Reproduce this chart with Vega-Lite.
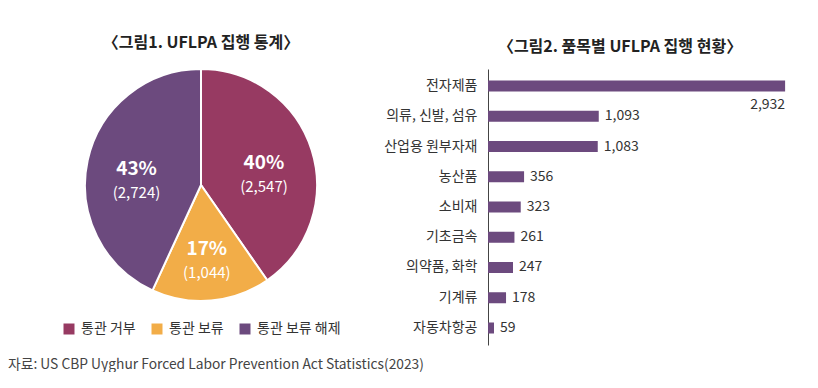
{
  "$schema": "https://vega.github.io/schema/vega-lite/v6.json",
  "padding": {"left": 0, "top": 35, "right": 0, "bottom": 0},
  "background": "white",
  "bounds": "flush",
  "spacing": 86,
  "resolve": {"legend": {"color": "independent"}, "scale": {"color": "independent"}},
  "config": {"view": {"stroke": null}, "font": "Noto Sans CJK KR"},
  "title": {
    "text": "자료: US CBP Uyghur Forced Labor Prevention Act Statistics(2023)",
    "orient": "bottom",
    "anchor": "start",
    "fontSize": 13.8,
    "fontWeight": "normal",
    "color": "#444",
    "dx": 8,
    "offset": 13
  },
  "hconcat": [
    {
      "width": 402,
      "height": 232,
      "title": {"text": "〈그림1. UFLPA 집행 통계〉", "fontSize": 16, "fontWeight": "bold", "color": "#222", "offset": 14},
      "data": {
        "values": [
          {"cat": "통관 거부", "count": 2547, "pct": "40%", "label": "(2,547)", "order": 1},
          {"cat": "통관 보류", "count": 1044, "pct": "17%", "label": "(1,044)", "order": 2},
          {"cat": "통관 보류 해제", "count": 2724, "pct": "43%", "label": "(2,724)", "order": 3}
        ]
      },
      "encoding": {
        "theta": {"field": "count", "type": "quantitative", "stack": true},
        "order": {"field": "order", "type": "quantitative"}
      },
      "layer": [
        {
          "mark": {"type": "arc", "stroke": "white", "strokeWidth": 2, "outerRadius": 116},
          "encoding": {
            "color": {
              "field": "cat",
              "type": "nominal",
              "scale": {"domain": ["통관 거부", "통관 보류", "통관 보류 해제"], "range": ["#973a62", "#f2ad48", "#6c4a7e"]},
              "legend": {
                "orient": "none",
                "legendX": 62,
                "legendY": 253,
                "direction": "horizontal",
                "title": null,
                "symbolType": "square",
                "symbolSize": 121,
                "symbolStrokeWidth": 0,
                "labelFontSize": 14,
                "labelColor": "#333",
                "labelOffset": 5,
                "columnPadding": 14
              }
            }
          }
        },
        {
          "mark": {"type": "text", "radius": 66, "fontSize": 19, "fontWeight": "bold", "fill": "white", "dy": -2},
          "encoding": {"text": {"field": "pct", "type": "nominal"}}
        },
        {
          "mark": {"type": "text", "radius": 66, "fontSize": 15, "fill": "white", "dy": 22},
          "encoding": {"text": {"field": "label", "type": "nominal"}}
        }
      ]
    },
    {
      "width": 304,
      "height": 276,
      "title": {"text": "〈그림2. 품목별 UFLPA 집행 현황〉", "fontSize": 16, "fontWeight": "bold", "color": "#222", "offset": 14, "dx": -20},
      "data": {
        "values": [
          {"item": "전자제품", "n": 2932},
          {"item": "의류, 신발, 섬유", "n": 1093},
          {"item": "산업용 원부자재", "n": 1083},
          {"item": "농산품", "n": 356},
          {"item": "소비재", "n": 323},
          {"item": "기초금속", "n": 261},
          {"item": "의약품, 화학", "n": 247},
          {"item": "기계류", "n": 178},
          {"item": "자동차항공", "n": 59}
        ]
      },
      "encoding": {
        "y": {
          "field": "item",
          "type": "nominal",
          "sort": null,
          "scale": {"paddingInner": 0.636, "paddingOuter": 0.38},
          "axis": {"title": null, "ticks": false, "domainColor": "#444", "labelFontSize": 14, "labelColor": "#333", "labelPadding": 11}
        },
        "x": {"field": "n", "type": "quantitative", "scale": {"domain": [0, 3000], "nice": false}, "axis": null}
      },
      "layer": [
        {"mark": {"type": "bar", "color": "#6c4a7e"}},
        {
          "transform": [{"filter": "datum.n < 2000"}],
          "mark": {"type": "text", "align": "left", "dx": 6, "fontSize": 14, "color": "#333"},
          "encoding": {"text": {"field": "n", "type": "quantitative", "format": ","}}
        },
        {
          "transform": [{"filter": "datum.n >= 2000"}],
          "mark": {"type": "text", "align": "right", "dy": 19, "fontSize": 14, "color": "#333"},
          "encoding": {"text": {"field": "n", "type": "quantitative", "format": ","}}
        }
      ]
    }
  ]
}
